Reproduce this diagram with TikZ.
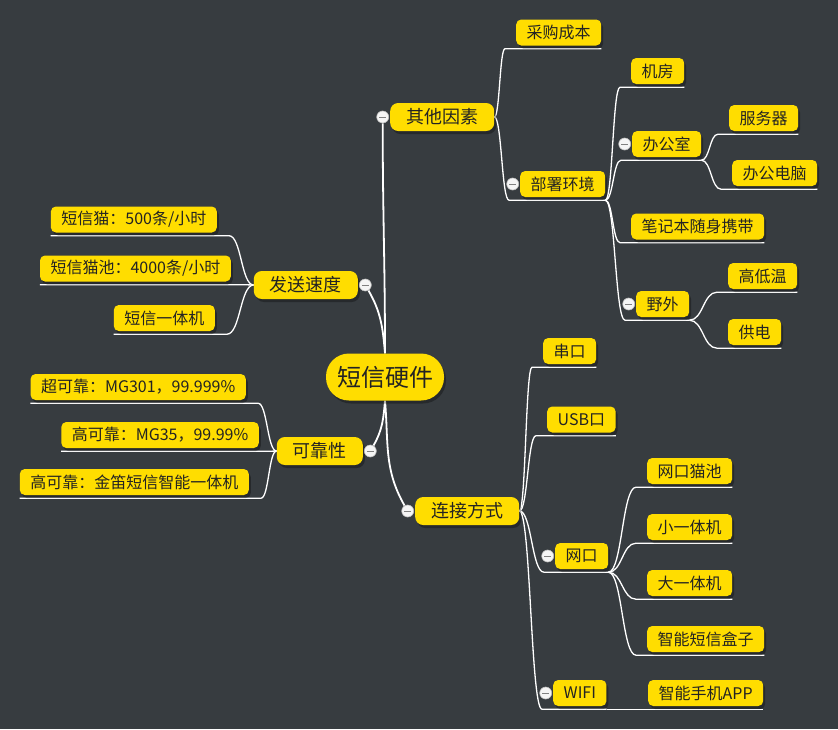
\documentclass[tikz,border=0pt]{standalone}
\usepackage{fontspec}
\setmainfont{Noto Sans CJK SC}
\usepackage{tikz}
\usetikzlibrary{positioning, calc, shadows}
\definecolor{bgdark}{RGB}{55,60,64}
\definecolor{topicyel}{RGB}{255,221,0}
\definecolor{inktext}{RGB}{35,35,35}
\pgfdeclarelayer{canvas}
\pgfdeclarelayer{lines}
\pgfsetlayers{canvas,lines,main}
% curve from a point to the underline of a child on the right / on the left
\newcommand{\rlink}[2]{%
  \path (#1) coordinate (p) ([xshift=-11pt,yshift=-3pt]#2.south west) coordinate (q);
  \path ($(p)!.5!(q)$) coordinate (m);
  \draw[link] (p) .. controls (m|-p) and (m|-q) .. (q) -- ([yshift=-3pt]#2.south east);}
\newcommand{\llink}[2]{%
  \path (#1) coordinate (p) ([xshift=12pt,yshift=-3pt]#2.south east) coordinate (q);
  \path ($(p)!.5!(q)$) coordinate (m);
  \draw[link] (p) .. controls (m|-p) and (m|-q) .. (q) -- ([yshift=-3pt]#2.south west);}

\begin{document}
\begin{tikzpicture}[x=1pt, y=-1pt, font=\fontsize{16pt}{19pt}\selectfont,
  topic/.style={fill=topicyel, text=inktext, rounded corners=5pt, inner xsep=10.5pt,
    inner ysep=0pt, minimum height=26pt,
    drop shadow={shadow xshift=2pt, shadow yshift=-3pt, fill=black, opacity=.3}},
  main/.style={topic, rounded corners=8pt, inner xsep=16pt, minimum height=28pt,
    font=\fontsize{18pt}{21pt}\selectfont},
  link/.style={draw=white, line width=1.3pt},
  trunk/.style={draw=white, line width=1.8pt},
  fold/.style={circle, draw=gray!50, line width=.6pt, fill=white!92!gray, minimum size=12pt, inner sep=0pt,
    path picture={\draw[gray, line width=1pt]
      ([xshift=-3.5pt]path picture bounding box.center) -- ([xshift=3.5pt]path picture bounding box.center);}}]
\begin{pgfonlayer}{canvas}
\fill[bgdark] (0,0) rectangle (838,729);
\end{pgfonlayer}
\useasboundingbox (0,0) rectangle (838,729);

% root and main topics
\node[topic, rounded corners=23pt, inner xsep=11pt, minimum height=47pt,
  font=\fontsize{24pt}{28pt}\selectfont] (root) at (385,377) {短信硬件};
\node[main, anchor=west] (qita) at (390,117) {其他因素};
\node[main, anchor=east] (fasong) at (358,285) {发送速度};
\node[main, anchor=east] (kekao) at (363,451) {可靠性};
\node[main, anchor=west] (lianjie) at (415,511) {连接方式};

% 其他因素
\node[topic, anchor=west] (caigou) at (516,32.5) {采购成本};
\node[topic, anchor=west] (bushu) at (520,184) {部署环境};
\node[topic, anchor=west] (jifang) at (631,71) {机房};
\node[topic, anchor=west] (bangong) at (632,144) {办公室};
\node[topic, anchor=west] (fuwuqi) at (729,118) {服务器};
\node[topic, anchor=west] (diannao) at (732,173) {办公电脑};
\node[topic, anchor=west] (bijiben) at (631,226.5) {笔记本随身携带};
\node[topic, anchor=west] (yewai) at (636,304) {野外};
\node[topic, anchor=west] (gaodiwen) at (728,276) {高低温};
\node[topic, anchor=west] (gongdian) at (728,332) {供电};

% 发送速度
\node[topic, anchor=east] (mao) at (217,219.5) {短信猫：500条/小时};
\node[topic, anchor=east] (maochi) at (231,268.5) {短信猫池：4000条/小时};
\node[topic, anchor=east] (yitiji) at (215,318) {短信一体机};

% 可靠性
\node[topic, anchor=east] (chao) at (246,387) {超可靠：MG301，99.999\%};
\node[topic, anchor=east] (gao1) at (259,435) {高可靠：MG35，99.99\%};
\node[topic, anchor=east] (gao2) at (249,482) {高可靠：金笛短信智能一体机};

% 连接方式
\node[topic, anchor=west] (chuankou) at (543,351) {串口};
\node[topic, anchor=west] (usb) at (547,419.5) {USB口};
\node[topic, anchor=west] (wangkou) at (555,556) {网口};
\node[topic, anchor=west] (wkmc) at (647,471) {网口猫池};
\node[topic, anchor=west] (xiao) at (647,527) {小一体机};
\node[topic, anchor=west] (da) at (647,583) {大一体机};
\node[topic, anchor=west] (hezi) at (647,639) {智能短信盒子};
\node[topic, anchor=west] (wifi) at (553,693) {WIFI};
\node[topic, anchor=west] (app) at (648,693) {智能手机APP};

% fold markers
\node[fold, left=1pt of qita] (qitaf) {};
\node[fold, right=1pt of fasong] (fasongf) {};
\node[fold, right=1pt of kekao] (kekaof) {};
\node[fold, left=1pt of lianjie] (lianjief) {};
\node[fold, left=1pt of bushu] (bushuf) {};
\node[fold, left=1pt of bangong] (bangongf) {};
\node[fold, left=1pt of yewai] (yewaif) {};
\node[fold, left=1pt of wangkou] (wangkouf) {};
\node[fold, left=1pt of wifi] (wifif) {};

% branches
\begin{pgfonlayer}{lines}
\draw[trunk] (root.north) to[out=90, in=-90] (qitaf);
\draw[trunk] (root.north) to[out=95, in=-60] (fasongf);
\draw[trunk] (root.south) to[out=-95, in=60] (kekaof);
\draw[trunk] (root.south) to[out=-85, in=120] (lianjief);

\rlink{qita.east}{caigou}
\rlink{qita.east}{bushu}
\rlink{[yshift=-3pt]bushu.south east}{jifang}
\rlink{[yshift=-3pt]bushu.south east}{bangong}
\rlink{[yshift=-3pt]bushu.south east}{bijiben}
\rlink{[yshift=-3pt]bushu.south east}{yewai}
\rlink{[yshift=-3pt]bangong.south east}{fuwuqi}
\rlink{[yshift=-3pt]bangong.south east}{diannao}
\rlink{[yshift=-3pt]yewai.south east}{gaodiwen}
\rlink{[yshift=-3pt]yewai.south east}{gongdian}

\llink{fasong.west}{mao}
\llink{fasong.west}{maochi}
\llink{fasong.west}{yitiji}
\llink{kekao.west}{chao}
\llink{kekao.west}{gao1}
\llink{kekao.west}{gao2}

\rlink{lianjie.east}{chuankou}
\rlink{lianjie.east}{usb}
\rlink{lianjie.east}{wangkou}
\rlink{lianjie.east}{wifi}
\rlink{[yshift=-3pt]wangkou.south east}{wkmc}
\rlink{[yshift=-3pt]wangkou.south east}{xiao}
\rlink{[yshift=-3pt]wangkou.south east}{da}
\rlink{[yshift=-3pt]wangkou.south east}{hezi}
\rlink{[yshift=-3pt]wifi.south east}{app}
\end{pgfonlayer}
\end{tikzpicture}
\end{document}
